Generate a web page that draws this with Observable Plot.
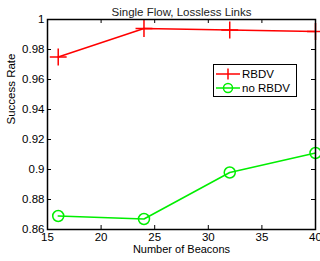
<!DOCTYPE html>
<html><head><meta charset="utf-8">
<script src="https://cdn.jsdelivr.net/npm/d3@7"></script>
<script src="https://cdn.jsdelivr.net/npm/@observablehq/plot@0.6"></script>
<style>
html,body{margin:0;padding:0;background:#fff;}
#wrap{position:relative;width:320px;height:261px;overflow:hidden;font-family:"Liberation Sans",Arial,sans-serif;}
#legend{position:absolute;left:213px;top:64px;width:84px;height:33px;border:1px solid #000;background:#fff;box-sizing:border-box;font-size:11.5px;}
.row{position:absolute;left:2px;height:14px;display:flex;align-items:center;}
.row svg{margin-right:2px;}
</style>
</head><body>
<div id="wrap"></div>
<script>
const title = "Single Flow, Lossless Links";
const xLabel = "Number of Beacons";
const yLabel = "Success Rate";
const beacons = [16, 24, 32, 40];
const rbdv = [0.975, 0.994, 0.993, 0.992];
const noRbdv = [0.869, 0.867, 0.898, 0.911];
const xTicks = [15, 20, 25, 30, 35, 40];
const yTicks = [0.86, 0.88, 0.9, 0.92, 0.94, 0.96, 0.98, 1];
const seriesNames = ["RBDV", "no RBDV"];
const colors = ["#ff0000", "#00ee00"];

const W = 320, H = 261, mL = 47, mR = 5, mT = 19, mB = 32;
const pw = W - mL - mR, ph = H - mT - mB;
const tk = 4;

const data = [
  ...beacons.map((b, i) => ({x: b, y: rbdv[i], s: seriesNames[0]})),
  ...beacons.map((b, i) => ({x: b, y: noRbdv[i], s: seriesNames[1]}))
];
const s0 = data.filter(d => d.s === seriesNames[0]);
const s1 = data.filter(d => d.s === seriesNames[1]);

const chart = Plot.plot({
  width: W, height: H,
  marginLeft: mL, marginRight: mR, marginTop: mT, marginBottom: mB,
  style: {fontFamily: '"Liberation Sans", Arial, sans-serif', fontSize: "11px", color: "#000", background: "#fff", overflow: "visible"},
  x: {domain: [15, 40], ticks: xTicks},
  y: {domain: [0.86, 1], ticks: yTicks},
  marks: [
    Plot.axisX(xTicks, {tickSize: 0, tickPadding: 3, tickFormat: d => String(d), fontSize: 11.5, label: null}),
    Plot.axisY(yTicks, {tickSize: 0, tickPadding: 3, tickFormat: d => String(d), fontSize: 11.5, label: null}),
    Plot.ruleY(yTicks, {y: d => d, insetRight: pw - tk, stroke: "#000"}),
    Plot.ruleY(yTicks, {y: d => d, insetLeft: pw - tk, stroke: "#000"}),
    Plot.ruleX(xTicks, {x: d => d, insetTop: ph - tk, stroke: "#000"}),
    Plot.ruleX(xTicks, {x: d => d, insetBottom: ph - tk, stroke: "#000"}),
    Plot.line(s0, {x: "x", y: "y", stroke: colors[0], strokeWidth: 1.5}),
    Plot.dot(s0, {x: "x", y: "y", symbol: "plus", r: 5.5, stroke: colors[0], strokeWidth: 1.5}),
    Plot.line(s1, {x: "x", y: "y", stroke: colors[1], strokeWidth: 1.5}),
    Plot.dot(s1, {x: "x", y: "y", symbol: "circle", r: 5.5, stroke: colors[1], strokeWidth: 1.5, fill: "none"}),
    Plot.frame({stroke: "#000", strokeWidth: 1.5}),
    Plot.text([title], {frameAnchor: "top", dy: -12, text: d => d, fontSize: 11.5, fill: "#222"}),
    Plot.text([xLabel], {frameAnchor: "bottom", dy: 23, text: d => d, fontSize: 11}),
    Plot.text([yLabel], {frameAnchor: "left", dx: -36, rotate: -90, text: d => d, fontSize: 11.5})
  ]
});
const wrap = document.getElementById("wrap");
wrap.appendChild(chart);

const leg = document.createElement("div");
leg.id = "legend";
seriesNames.forEach((name, i) => {
  const row = document.createElement("div");
  row.className = "row";
  row.style.top = (2 + i * 14) + "px";
  const sym = i === 0
    ? `<line x1="0" y1="7" x2="24" y2="7" stroke="${colors[i]}" stroke-width="1.5"/><line x1="12" y1="1.5" x2="12" y2="12.5" stroke="${colors[i]}" stroke-width="1.5"/>`
    : `<line x1="0" y1="7" x2="24" y2="7" stroke="${colors[i]}" stroke-width="1.5"/><circle cx="12" cy="7" r="4.5" fill="none" stroke="${colors[i]}" stroke-width="1.5"/>`;
  row.innerHTML = `<svg width="24" height="14">${sym}</svg><span>${name}</span>`;
  leg.appendChild(row);
});
wrap.appendChild(leg);
</script>
</body></html>
